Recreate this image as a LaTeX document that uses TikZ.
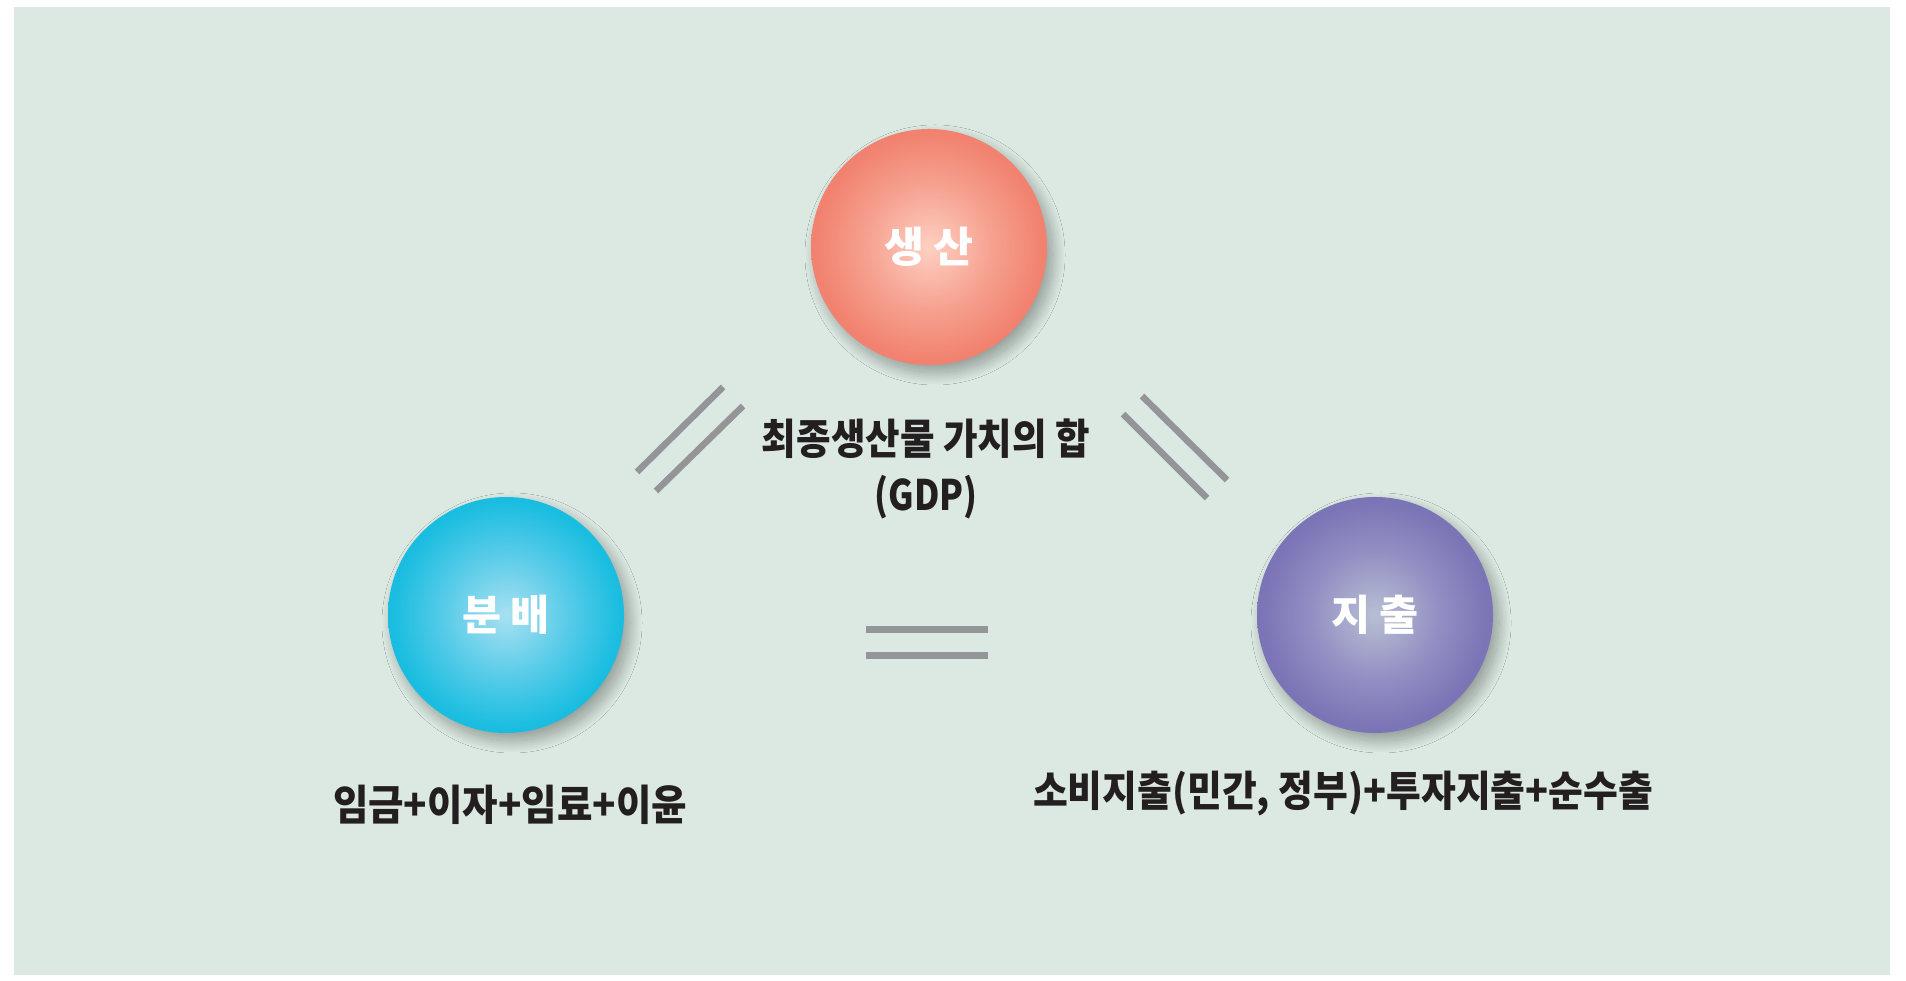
\documentclass[tikz,border=0pt]{standalone}
\usepackage{fontspec}
\usepackage{graphicx}
\newfontfamily\kr{Noto Sans CJK KR}
\usetikzlibrary{shadows.blur}
\definecolor{bg}{HTML}{DCE9E2}
\definecolor{barcol}{HTML}{939598}
\definecolor{txt}{HTML}{231F20}
\definecolor{redin}{HTML}{FDD0C2}
\definecolor{redmid}{HTML}{F6A08F}
\definecolor{redout}{HTML}{F1826F}
\definecolor{bluein}{HTML}{A8E0F1}
\definecolor{bluemid}{HTML}{55CBE8}
\definecolor{blueout}{HTML}{1ABDE0}
\definecolor{purin}{HTML}{B8BFD3}
\definecolor{purmid}{HTML}{938FC3}
\definecolor{purout}{HTML}{7B74B6}
\pgfdeclareradialshading{redball}{\pgfpoint{0bp}{0bp}}{color(0bp)=(redin); color(13.5bp)=(redmid); color(24bp)=(redout); color(50bp)=(redout)}
\pgfdeclareradialshading{blueball}{\pgfpoint{0bp}{0bp}}{color(0bp)=(bluein); color(13.5bp)=(bluemid); color(24bp)=(blueout); color(50bp)=(blueout)}
\pgfdeclareradialshading{purball}{\pgfpoint{0bp}{0bp}}{color(0bp)=(purin); color(13.5bp)=(purmid); color(24bp)=(purout); color(50bp)=(purout)}
\tikzset{
  ball/.style={circle, inner sep=0pt, minimum size=236pt, text=white,
    font=\kr\bfseries\fontsize{42}{48}\selectfont,
    blur shadow={shadow xshift=6pt, shadow yshift=-8pt, shadow blur radius=12pt, shadow opacity=34, shadow blur steps=30}},
  bar/.style={draw=barcol, line width=6.5pt},
  lbl/.style={inner sep=0pt, text=txt, font=\kr\bfseries\fontsize{42}{48}\selectfont}
}
\begin{document}
\begin{tikzpicture}[x=1pt,y=1pt]
\useasboundingbox (0,0) rectangle (1906,980);
\fill[bg] (14,5) rectangle (1890,973);
% connectors (equals signs)
\coordinate (l1a) at (637,508); \coordinate (l1b) at (723,593);
\coordinate (l2a) at (656,489); \coordinate (l2b) at (743,574);
\coordinate (r1a) at (1142,584); \coordinate (r1b) at (1227,500);
\coordinate (r2a) at (1123,566); \coordinate (r2b) at (1207,482);
\coordinate (h1a) at (866,350.5); \coordinate (h1b) at (988,350.5);
\coordinate (h2a) at (866,324.5); \coordinate (h2b) at (988,324.5);
\draw[bar] (l1a) -- (l1b);
\draw[bar] (l2a) -- (l2b);
\draw[bar] (r1a) -- (r1b);
\draw[bar] (r2a) -- (r2b);
\draw[bar] (h1a) -- (h1b);
\draw[bar] (h2a) -- (h2b);
% balls
\node[ball, shading=redball] (prod) at (929,733) {\resizebox{90pt}{\height}{생 산}};
\node[ball, shading=blueball] (dist) at (506,365) {\resizebox{88pt}{\height}{분 배}};
\node[ball, shading=purball] (exp) at (1375,365) {\resizebox{88pt}{\height}{지 출}};
% labels
\node[lbl] (t1) at (926,541) {\resizebox{328pt}{\height}{최종생산물 가치의 합}};
\node[lbl] (t2) at (926,483) {\resizebox{103pt}{\height}{(GDP)}};
\node[lbl] (t3) at (510,175) {\resizebox{354pt}{\height}{임금+이자+임료+이윤}};
\node[lbl] (t4) at (1343,186) {\resizebox{620pt}{\height}{소비지출(민간, 정부)+투자지출+순수출}};
\end{tikzpicture}
\end{document}
